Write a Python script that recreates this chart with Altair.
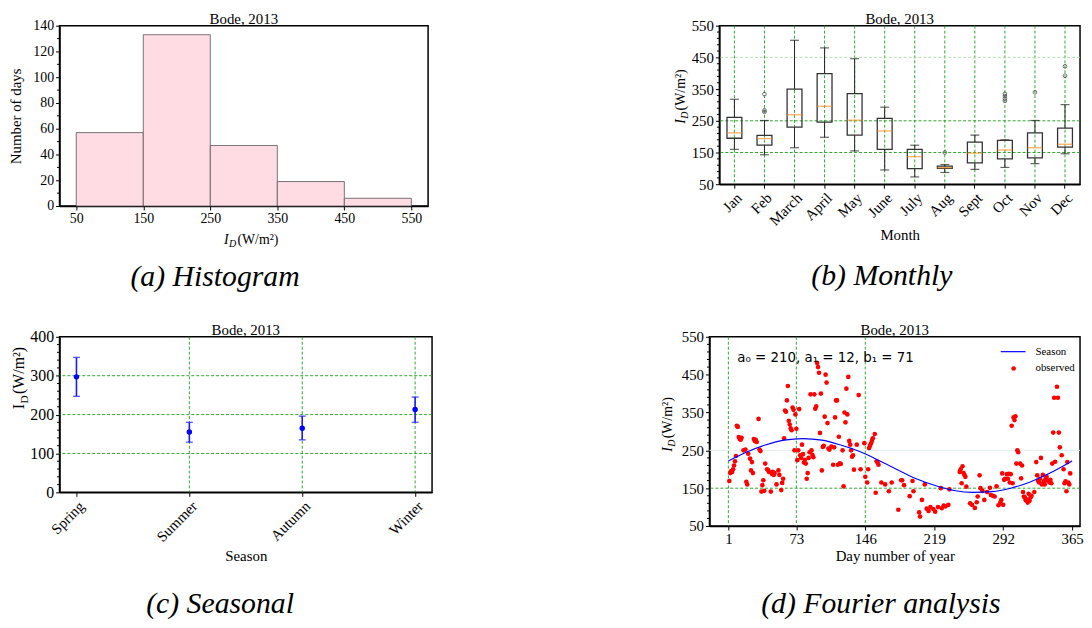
import altair as alt
import pandas as pd

FONT = "Liberation Serif"
GREEN = "#1a9c1a"

# ---------------- (a) Histogram ----------------
hist_lo = [50, 150, 250, 350, 450]
hist_hi = [150, 250, 350, 450, 550]
hist_count = [57, 133, 47, 19, 6]
hist_ticks = [50, 150, 250, 350, 450, 550]
hist_yticks = [0, 20, 40, 60, 80, 100, 120, 140]
hist_minor = [10, 30, 50, 70, 90, 110, 130]

# ---------------- (b) Monthly box plot ----------------
months = ["Jan", "Feb", "March", "April", "May", "June", "July", "Aug", "Sept", "Oct", "Nov", "Dec"]
box_low = [160, 143, 165, 198, 155, 95, 73, 87, 97, 103, 115, 146]
box_q1 = [195, 173, 230, 246, 205, 160, 99, 100, 117, 130, 133, 167]
box_med = [212, 194, 269, 296, 252, 218, 137, 102, 148, 158, 165, 176]
box_q3 = [261, 204, 350, 399, 336, 258, 160, 107, 183, 188, 212, 227]
box_high = [318, 251, 504, 480, 446, 293, 173, 112, 205, 190, 251, 301]
out_month = ["Feb", "Feb", "Feb", "Aug", "Oct", "Oct", "Oct", "Oct", "Nov", "Dec", "Dec"]
out_val = [278, 283, 334, 150, 313, 320, 328, 335, 340, 392, 422]
monthly_ticks = [50, 150, 250, 350, 450, 550]
monthly_minor = [70, 90, 110, 130, 170, 190, 210, 230, 270, 290, 310, 330,
                 370, 390, 410, 430, 470, 490, 510, 530]
monthly_grid = [150, 250]
monthly_grid_faint = [450]

# ---------------- (c) Seasonal ----------------
seasons = ["Spring", "Summer", "Autumn", "Winter"]
season_mean = [297, 155, 165, 213]
season_lo = [247, 129, 135, 180]
season_hi = [347, 180, 196, 245]
season_ticks = [0, 100, 200, 300, 400]
season_minor = [20, 40, 60, 80, 120, 140, 160, 180, 220, 240, 260, 280, 320, 340, 360, 380]
season_hgrid = [100, 200, 300]
season_vgrid = ["Summer", "Autumn", "Winter"]

# ---------------- (d) Fourier analysis ----------------
obs_day = [2, 3, 4, 5, 6, 7, 8, 9, 10, 11, 12, 13, 14, 15, 17, 19, 20, 21, 22, 24, 25, 26, 27, 28,
           29, 30, 31, 33, 34, 35, 36, 37, 38, 39, 40, 42, 43, 44, 46, 47, 48, 49, 50, 52, 54, 55,
           57, 58, 59, 60, 61, 62, 63, 64, 65, 66, 67, 68, 69, 70, 71, 72, 73, 74, 75, 76, 77, 78, 79,
           80, 81, 82, 83, 84, 85, 86, 87, 88, 89, 90, 91, 92, 93, 94, 95, 96, 97, 98, 99, 100, 101,
           102, 103, 104, 105, 106, 107, 108, 110, 112, 113, 114, 115, 116, 117, 118, 119, 120, 122,
           123, 124, 125, 126, 127, 128, 129, 130, 131, 132, 133, 134, 137, 139, 141, 145, 146, 148,
           149, 150, 151, 152, 153, 154, 156, 157, 158, 159, 160, 163, 167, 171, 174, 181, 184,
           185, 187, 193, 196, 197, 203, 204, 206, 209, 211, 213, 215, 218, 220, 223, 226, 227, 229,
           231, 234, 235, 246, 247, 248, 249, 250, 251, 252, 253, 257, 259, 262, 264, 265, 267, 268,
           270, 272, 275, 278, 279,
           281, 283, 285, 287, 289, 290, 291, 292, 293, 294, 296, 297, 298, 299, 300, 301, 302, 303,
           304, 305, 306, 307, 308, 310, 311, 312, 313, 314, 315, 316, 317, 318, 319, 320, 321, 322,
           325, 327, 328, 329, 330, 331, 332, 333, 334, 335, 336, 337, 338, 339, 341, 342, 343, 344,
           345, 346, 347, 349, 350, 351, 352, 354, 356, 357, 358, 359, 360, 361, 362, 363]
obs_val = [169, 190, 195, 193, 200, 210, 221, 235, 315, 312, 285, 280, 278, 283, 250, 252, 167, 160,
           241, 228, 197, 219, 190, 280, 275, 278, 272, 333, 252, 248, 141, 158, 171, 143, 215, 200,
           198, 193, 141, 188, 193, 185, 190, 160, 197, 185, 145, 164, 175, 282, 355, 352, 382, 420,
           328, 318, 308, 303, 363, 357, 250, 345, 307, 224, 250, 359, 237, 230, 265,
           240, 218, 225, 215, 175, 190, 230, 245, 398, 250, 238, 232, 398, 360, 366, 481, 470, 455,
           296, 400, 197, 259, 262, 339, 450, 429, 322, 255, 252, 260, 212, 258, 337, 382, 382, 212,
           286, 216, 214, 250, 155, 350, 324, 413, 345, 444, 275, 265, 250, 233, 237, 199, 265, 396,
           200, 269, 180, 165, 200, 256, 262, 268, 275, 282, 293, 138, 221, 218, 212, 165, 160, 142,
           165, 93, 171,
           171, 158, 129, 169, 142, 86, 75, 119, 160, 96, 90, 100, 95, 88, 100, 150, 97, 104, 102,
           106, 147, 193, 200, 163, 208, 190, 185, 180, 154, 110, 106, 98, 113, 128, 184, 150, 143,
           119, 140, 151, 132,
           130, 128, 155, 105, 112, 119, 189, 106, 172, 175, 187, 175, 188, 165, 187, 315, 163, 337,
           330, 340, 215, 250, 245, 215, 176, 210, 140, 128, 125, 118, 120, 112, 135, 117, 126, 130,
           140, 219, 184, 170, 165, 175, 230, 160, 185, 168, 160, 175, 180, 170, 165, 172, 163, 215,
           297, 389, 220, 418, 389, 297, 258, 237, 200, 163, 168, 142, 219, 165, 160, 189]
fit_day = [1, 20, 40, 60, 80, 100, 120, 140, 160, 180, 200, 220, 240, 260, 280, 300, 320, 340, 365]
fit_val = [222, 245, 264, 277, 281, 277, 264, 247, 224, 199, 175, 157, 144, 139, 141, 150, 166, 188, 222]
day_ticks = [1, 73, 146, 219, 292, 365]
fourier_ticks = [50, 150, 250, 350, 450, 550]
fourier_minor = monthly_minor
day_vgrid = [1, 73, 146]
fourier_hgrid = [150]
fourier_faint = [250]

one = alt.Data(values=[{"k": 0}])


def txt(text, x, y, **kw):
    style = dict(font=FONT, color="black")
    style.update(kw)
    return alt.Chart(one).mark_text(text=text, **style).encode(x=alt.value(x), y=alt.value(y))


def id_title(x, y, size, angle=0, italic=True):
    style = "italic" if italic else "normal"
    sub = round(size * 0.72, 1)
    w_i = size * 0.36
    w_d = sub * 0.74
    base = dict(align="left", baseline="alphabetic", angle=angle)
    return [
        txt("I", x, y, fontSize=size, fontStyle=style, **base),
        txt("D", x, y, fontSize=sub, fontStyle=style, dx=w_i, dy=size * 0.25, **base),
        txt("(W/m²)", x, y, fontSize=size, dx=w_i + w_d + 1, **base),
    ]


def head(width):
    return txt("Bode, 2013", width / 2, -2, fontSize=15, align="center", baseline="alphabetic")


def caption(text, x, y):
    return txt(text, x, y, fontSize=30, fontStyle="italic", align="center", baseline="middle")


def grid_rule(df, color=GREEN, dash=(3, 2)):
    return alt.Chart(df).mark_rule(color=color, strokeDash=list(dash), strokeWidth=0.9)


def minor_ticks(values, yenc):
    return alt.Chart(pd.DataFrame({"t": values})).mark_rule(color="black", strokeWidth=1).encode(
        x=alt.value(-2.5), x2=alt.value(0), y=yenc("t:Q"))


# ---- panel a
hist_df = pd.DataFrame({"lo": hist_lo, "hi": hist_hi, "n": hist_count})
ya_scale = alt.Scale(domain=[0, 140], nice=False)
ya_axis = alt.Axis(values=hist_yticks, title="Number of days", titleFontSize=15, labelFontSize=14, titlePadding=9)


def ya(field):
    return alt.Y(field, scale=ya_scale, axis=ya_axis)


a_bars = alt.Chart(hist_df).mark_rect(fill="#ffdce3", stroke="#555555", strokeWidth=0.8).encode(
    x=alt.X("lo:Q", scale=alt.Scale(domain=[25, 575], nice=False),
            axis=alt.Axis(values=hist_ticks, title=None, labelFontSize=14)),
    x2="hi:Q",
    y=ya("n:Q"),
)
panel_a = alt.layer(a_bars, minor_ticks(hist_minor, ya), head(372), *id_title(166, 220, 14),
                    caption("(a) Histogram", 157, 254)).properties(width=372, height=182)

# ---- panel b
box_df = pd.DataFrame({"m": months, "lo": box_low, "q1": box_q1, "med": box_med, "q3": box_q3, "hi": box_high})
out_df = pd.DataFrame({"m": out_month, "v": out_val})
xb = alt.X("m:N", sort=months, scale=alt.Scale(domain=months, paddingInner=0, paddingOuter=0),
           axis=alt.Axis(title="Month", labelAngle=315, labelFontSize=15, titleFontSize=15, titlePadding=0))
yb_scale = alt.Scale(domain=[50, 550], nice=False)
yb_axis = alt.Axis(values=monthly_ticks, title=None, labelFontSize=15)


def yb(field):
    return alt.Y(field, scale=yb_scale, axis=yb_axis)


b_vgrid = grid_rule(pd.DataFrame({"m": months})).encode(x=xb)
b_hgrid = grid_rule(pd.DataFrame({"g": monthly_grid})).encode(y=yb("g:Q"))
b_hgrid2 = grid_rule(pd.DataFrame({"g": monthly_grid_faint}), color="#a6dca6").encode(y=yb("g:Q"))
b_base = alt.Chart(box_df)
b_wl = b_base.mark_rule(color="#222222", strokeWidth=1).encode(x=xb, y=yb("lo:Q"), y2="q1:Q")
b_wh = b_base.mark_rule(color="#222222", strokeWidth=1).encode(x=xb, y=yb("q3:Q"), y2="hi:Q")
b_cap_l = b_base.mark_tick(color="#222222", size=9, thickness=1.2).encode(x=xb, y=yb("lo:Q"))
b_cap_h = b_base.mark_tick(color="#222222", size=9, thickness=1.2).encode(x=xb, y=yb("hi:Q"))
b_box = b_base.mark_bar(size=15, fillOpacity=0, stroke="#333333", strokeWidth=1.3).encode(
    x=xb, y=yb("q1:Q"), y2="q3:Q")
b_med = b_base.mark_tick(color="#ff8c1a", size=15, thickness=1.3).encode(x=xb, y=yb("med:Q"))
b_out = alt.Chart(out_df).mark_point(shape="circle", size=14, color="#333333", strokeWidth=1).encode(
    x=xb, y=yb("v:Q"))
panel_b = alt.layer(b_vgrid, b_hgrid, b_hgrid2, b_wl, b_wh, b_cap_l, b_cap_h, b_box, b_med, b_out,
                    minor_ticks(monthly_minor, yb),
                    head(364), *id_title(-35, 99, 14, angle=270),
                    caption("(b) Monthly", 164, 253)).properties(width=364, height=160)

# ---- panel c
season_df = pd.DataFrame({"s": seasons, "mean": season_mean, "lo": season_lo, "hi": season_hi})
xc = alt.X("s:N", sort=seasons, scale=alt.Scale(type="point", domain=seasons, padding=0.15),
           axis=alt.Axis(title="Season", labelAngle=315, labelFontSize=15, titleFontSize=15, titlePadding=4))
yc_scale = alt.Scale(domain=[0, 400], nice=False)
yc_axis = alt.Axis(values=season_ticks, title=None, labelFontSize=16)


def yc(field):
    return alt.Y(field, scale=yc_scale, axis=yc_axis)


c_vgrid = grid_rule(pd.DataFrame({"s": season_vgrid})).encode(x=xc)
c_hgrid = grid_rule(pd.DataFrame({"g": season_hgrid})).encode(y=yc("g:Q"))
c_base = alt.Chart(season_df)
c_err = c_base.mark_rule(color="#1a1aff", strokeWidth=1.6).encode(x=xc, y=yc("lo:Q"), y2="hi:Q")
c_cap_l = c_base.mark_tick(color="#1a1aff", size=7, thickness=1.4).encode(x=xc, y=yc("lo:Q"))
c_cap_h = c_base.mark_tick(color="#1a1aff", size=7, thickness=1.4).encode(x=xc, y=yc("hi:Q"))
c_pt = c_base.mark_circle(color="#0000ff", size=30, opacity=1).encode(x=xc, y=yc("mean:Q"))
panel_c = alt.layer(c_vgrid, c_hgrid, c_err, c_cap_l, c_cap_h, c_pt, minor_ticks(season_minor, yc),
                    head(376), *id_title(-36, 73, 16, angle=270, italic=False),
                    caption("(c) Seasonal", 162, 270)).properties(width=376, height=157)

# ---- panel d
obs_df = pd.DataFrame({"d": obs_day, "v": obs_val})
fit_df = pd.DataFrame({"d": fit_day, "v": fit_val})
xd_scale = alt.Scale(domain=[-19, 373.4], nice=False)
xd_axis = alt.Axis(values=day_ticks, title="Day number of year", labelFontSize=15, titleFontSize=15, titlePadding=2)
yd_scale = alt.Scale(domain=[50, 550], nice=False)
yd_axis = alt.Axis(values=fourier_ticks, title=None, labelFontSize=15)


def xd(field):
    return alt.X(field, scale=xd_scale, axis=xd_axis)


def yd(field):
    return alt.Y(field, scale=yd_scale, axis=yd_axis)


d_vgrid = grid_rule(pd.DataFrame({"d": day_vgrid})).encode(x=xd("d:Q"))
d_hgrid = grid_rule(pd.DataFrame({"g": fourier_hgrid})).encode(y=yd("g:Q"))
d_faint = alt.Chart(pd.DataFrame({"g": fourier_faint})).mark_rule(color="#dfeeee", strokeWidth=1).encode(y=yd("g:Q"))
d_pts = alt.Chart(obs_df).mark_circle(color="#ff0000", size=22, opacity=1).encode(x=xd("d:Q"), y=yd("v:Q"))
d_fit = alt.Chart(fit_df).mark_line(color="#0000ff", strokeWidth=1.1, interpolate="monotone").encode(
    x=xd("d:Q"), y=yd("v:Q"))
d_annot = txt("a₀ = 210, a₁ = 12, b₁ = 71", 28, 25, font="DejaVu Sans", fontSize=13.5,
              align="left", baseline="alphabetic")
d_leg_line = alt.Chart(one).mark_rule(color="#0000ff", strokeWidth=1.2).encode(
    x=alt.value(294), x2=alt.value(319), y=alt.value(15))
d_leg_pt = alt.Chart(one).mark_circle(color="#ff0000", size=22, opacity=1).encode(x=alt.value(307), y=alt.value(32))
d_leg_t1 = txt("Season", 329, 15, fontSize=11, align="left", baseline="middle")
d_leg_t2 = txt("observed", 329, 32, fontSize=11, align="left", baseline="middle")
panel_d = alt.layer(d_faint, d_vgrid, d_hgrid, d_pts, d_fit, d_annot, d_leg_line, d_leg_pt, d_leg_t1, d_leg_t2,
                    minor_ticks(fourier_minor, yd),
                    head(374), *id_title(-38, 116, 14, angle=270),
                    caption("(d) Fourier analysis", 173, 270)).properties(width=374, height=191)

top = alt.hconcat(panel_a, panel_b, spacing=246)
bottom = alt.hconcat(panel_c, panel_d, spacing=228)

chart = alt.vconcat(top, bottom, spacing=29).properties(padding=0).configure(
    font=FONT
).configure_view(
    stroke="black", strokeWidth=1.5
).configure_axis(
    labelFont=FONT, titleFont=FONT, labelColor="black", titleColor="black", titleFontWeight="normal",
    domainColor="black", domainWidth=1.5, tickColor="black", tickSize=4, tickWidth=1, grid=False,
    labelPadding=2, labelFlush=False, labelOverlap=False
)

chart.save("out.html", embed_options={"renderer": "svg", "actions": False})
